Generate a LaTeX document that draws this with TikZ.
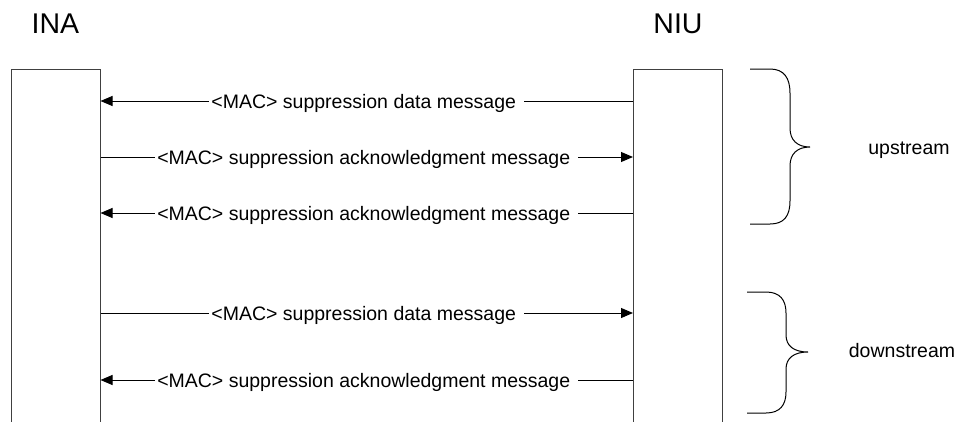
\documentclass[tikz,border=0pt]{standalone}
\usepackage{fontspec}
\setmainfont{Liberation Sans}
\usetikzlibrary{arrows.meta}
\definecolor{boxline}{HTML}{404040}
\begin{document}
\begin{tikzpicture}[x=1pt,y=-1pt,
  lifeline/.style={draw=boxline,line width=1pt,rectangle,minimum width=89pt,minimum height=354pt,anchor=north,inner sep=0pt},
  title/.style={font=\fontsize{28.5}{32}\selectfont,inner sep=0pt},
  msg/.style={draw=black,line width=1pt,-{Triangle[length=12pt,width=10pt]}},
  msglabel/.style={font=\fontsize{19.5}{23}\selectfont,fill=white,inner xsep=2pt,inner ysep=1pt,text height=14pt,text depth=0pt},
  side/.style={font=\fontsize{19.5}{23}\selectfont,inner sep=0pt,anchor=base},
  brace/.style={draw=black,line width=1pt}]
\useasboundingbox (0,0) rectangle (961,421);
\fill[white] (0,0) rectangle (961,421);
% titles
\node[title] (tina) at (55.5,24) {INA};
\node[title] (tniu) at (678,24) {NIU};
% lifeline boxes
\node[lifeline] (ina) at (55.5,69) {};
\node[lifeline] (niu) at (678,69) {};
% rows
\coordinate (r1) at (0,101);
\coordinate (r2) at (0,157);
\coordinate (r3) at (0,213);
\coordinate (r4) at (0,313);
\coordinate (r5) at (0,380);
\draw[msg] (niu.west |- r1) -- node[msglabel] {<MAC> suppression data message\hspace*{6pt}} (ina.east |- r1);
\draw[msg] (ina.east |- r2) -- node[msglabel] {<MAC> suppression acknowledgment message\hspace*{6pt}} (niu.west |- r2);
\draw[msg] (niu.west |- r3) -- node[msglabel] {<MAC> suppression acknowledgment message\hspace*{6pt}} (ina.east |- r3);
\draw[msg] (ina.east |- r4) -- node[msglabel] {<MAC> suppression data message\hspace*{6pt}} (niu.west |- r4);
\draw[msg] (niu.west |- r5) -- node[msglabel] {<MAC> suppression acknowledgment message\hspace*{6pt}} (ina.east |- r5);
% upstream brace
\draw[brace] (750,69) -- (770,69) .. controls (784,69) and (790,78) .. (790,93)
  -- (790,128) .. controls (790,140) and (797,147) .. (810,147)
  .. controls (797,147) and (790,154) .. (790,166)
  -- (790,201) .. controls (790,216) and (784,224) .. (770,224) -- (750,224);
\node[side] (up) at (909,154) {upstream};
% downstream brace
\draw[brace] (747,292) -- (766,292) .. controls (780,292) and (786,300) .. (786,313)
  -- (786,335) .. controls (786,346) and (794,352) .. (808,352)
  .. controls (794,352) and (786,358) .. (786,369)
  -- (786,392) .. controls (786,405) and (780,413) .. (766,413) -- (747,413);
\node[side] (down) at (902,357) {downstream};
\end{tikzpicture}
\end{document}
